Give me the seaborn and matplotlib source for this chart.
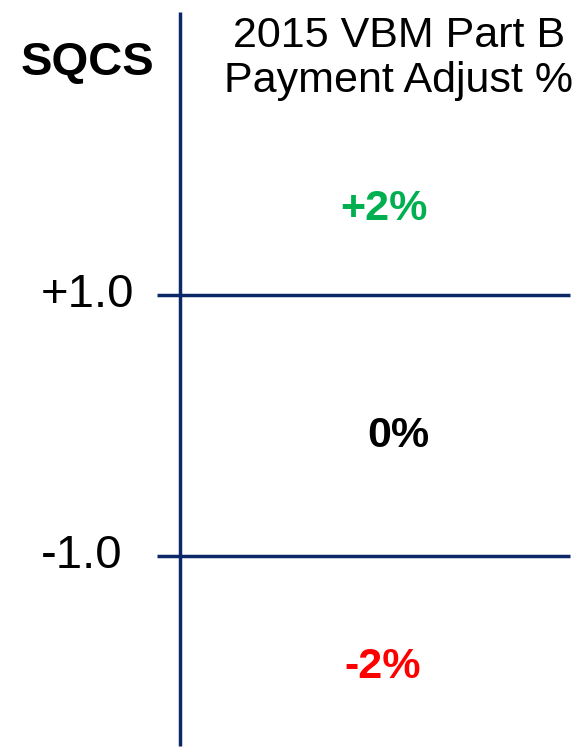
import numpy as np
import matplotlib
matplotlib.use('Agg')
import matplotlib.pyplot as plt
import seaborn as sns

# SQCS thresholds and the payment adjustment for each band
thresholds = [1.0, -1.0]
threshold_labels = ['+1.0', '-1.0']
adjust_labels = ['+2%', '0%', '-2%']
adjust_y = [1.66, -0.08, -1.85]
adjust_x = [0.665, 0.69, 0.663]
adjust_colors = ['#00b050', '#000000', '#ff0000']

sns.set_theme(style='white')
plt.rcParams['font.family'] = ['Liberation Sans', 'DejaVu Sans']

navy = '#0c2868'

fig = plt.figure(figsize=(5.77, 7.47), dpi=100)
ax = fig.add_axes([0, 0, 1, 1])
ax.set_xlim(0, 1)
ax.set_ylim(-2.46, 3.26)
ax.axis('off')

# vertical axis line
ax.vlines(0.312, -2.45, 3.17, color=navy, linewidth=2.5)

# threshold lines
ax.hlines(thresholds, 0.272, 0.988, color=navy, linewidth=2.5)
for y, lab in zip(thresholds, threshold_labels):
    ax.text(0.07, y, lab, ha='left', va='center', fontsize=34, color='black')

# adjustment labels
for x, y, lab, c in zip(adjust_x, adjust_y, adjust_labels, adjust_colors):
    ax.text(x, y, lab, ha='center', va='center', fontsize=31,
            fontweight='bold', color=c)

# headers
ax.text(0.151, 2.78, 'SQCS', ha='center', va='center', fontsize=34,
        fontweight='bold', color='black')
ax.text(0.691, 2.81, '2015 VBM Part B\nPayment Adjust %', ha='center',
        va='center', fontsize=31, color='black', linespacing=1.17)

fig.savefig('out.png', dpi=100)
